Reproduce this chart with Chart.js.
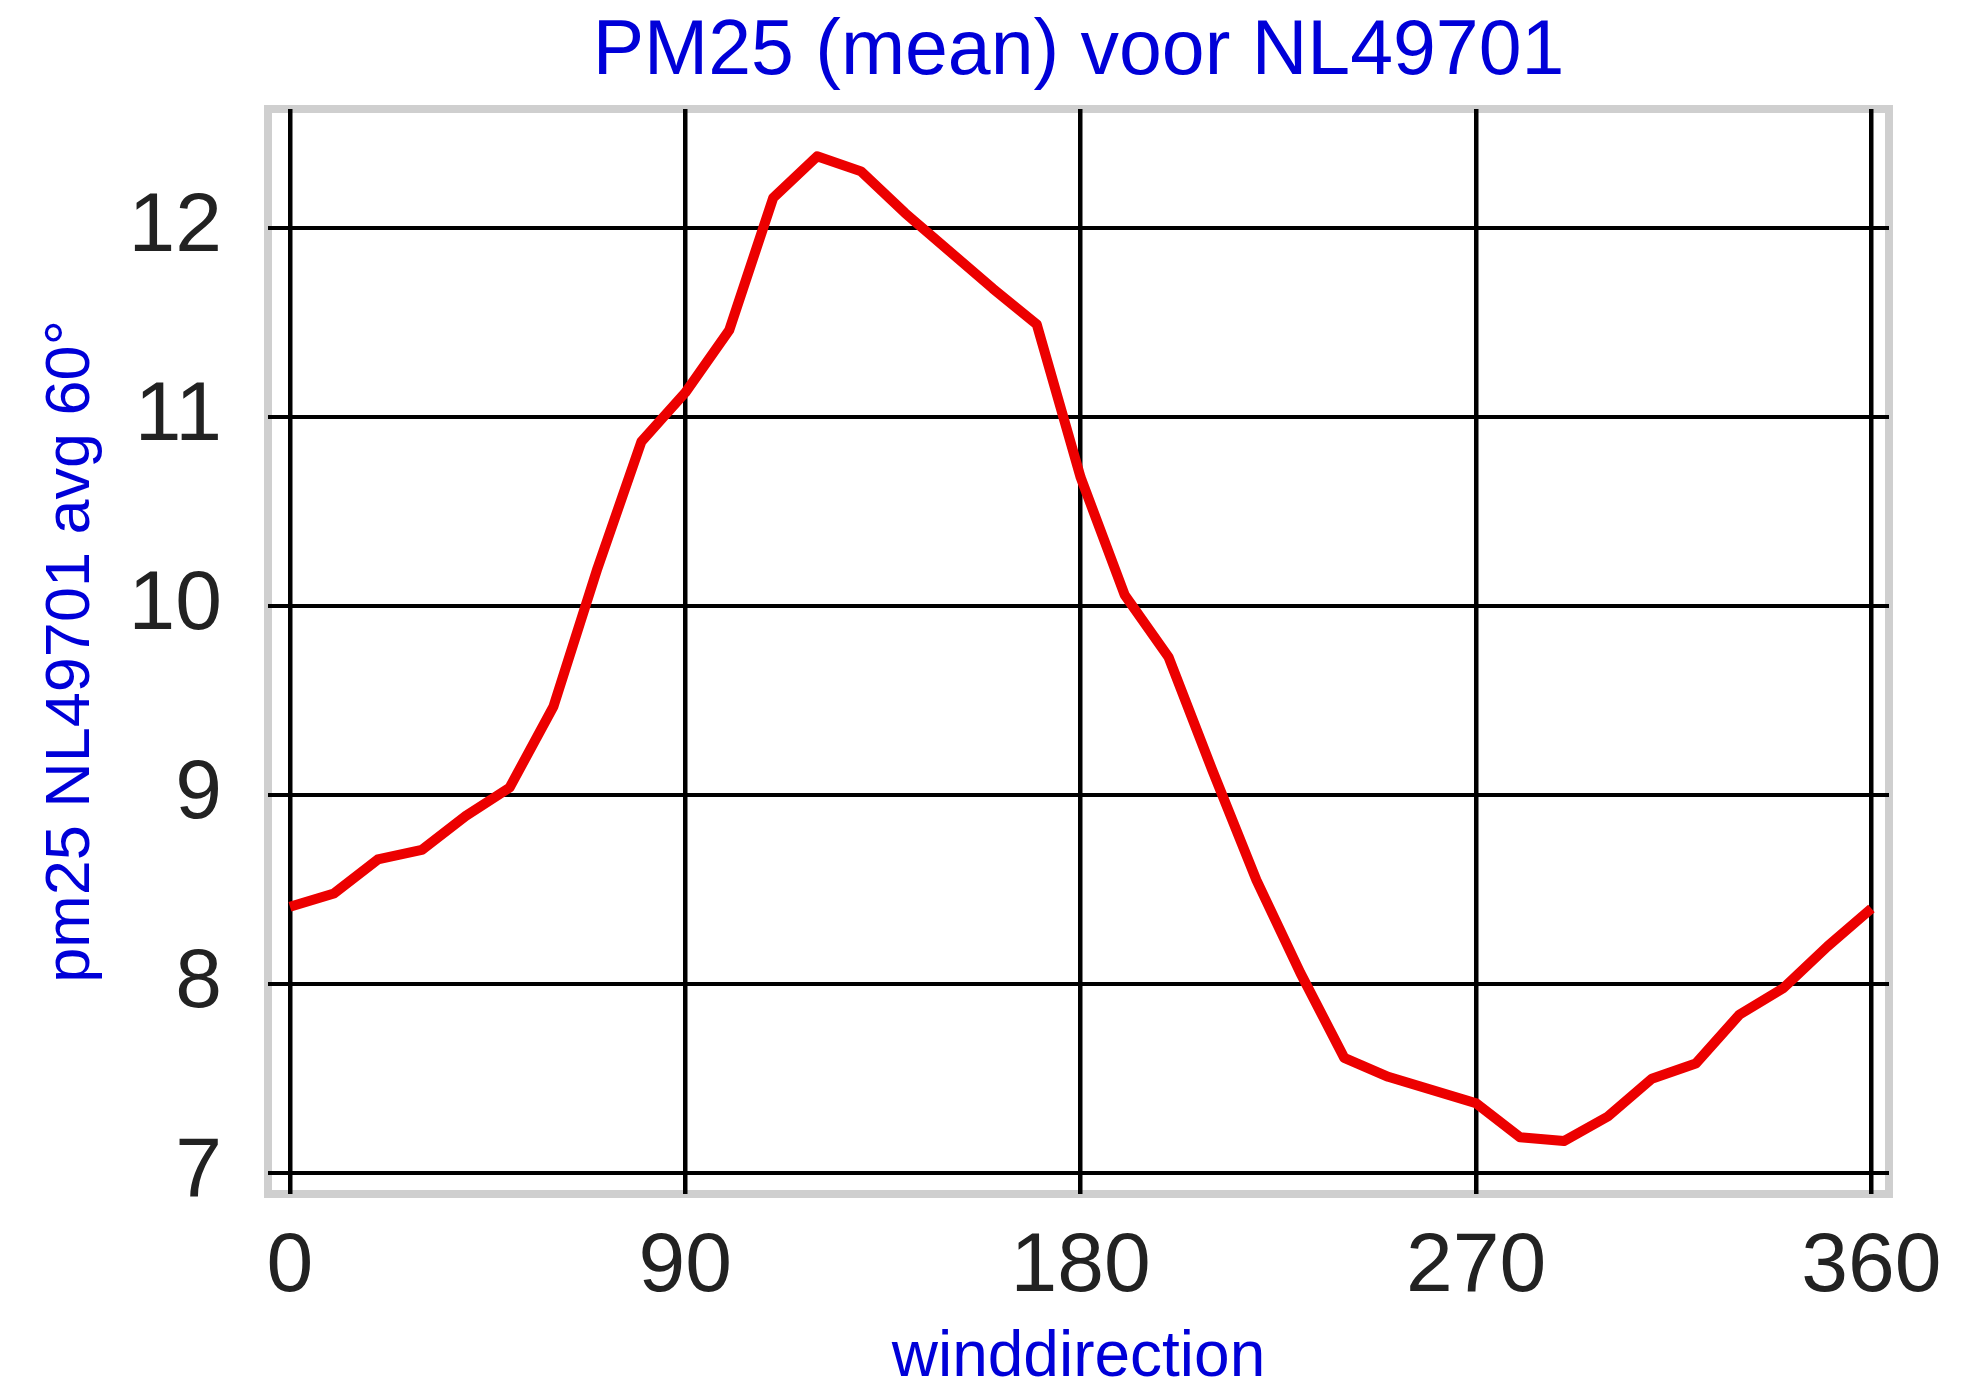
<!DOCTYPE html>
<html>
<head>
<meta charset="utf-8">
<script src="https://cdn.jsdelivr.net/npm/chart.js@4/dist/chart.umd.min.js"></script>
<style>
  html, body { margin: 0; padding: 0; background: #ffffff; }
  #wrap { width: 1988px; height: 1386px; }
</style>
</head>
<body>
<div id="wrap"><canvas id="c" width="1988" height="1386"></canvas></div>
<script>
// ---- data ----
const directions = [0, 10, 20, 30, 40, 50, 60, 70, 80, 90, 100, 110, 120, 130, 140, 150, 160, 170, 180,
                    190, 200, 210, 220, 230, 240, 250, 260, 270, 280, 290, 300, 310, 320, 330, 340, 350, 360];
const pm25Mean = [8.41, 8.48, 8.66, 8.71, 8.89, 9.04, 9.47, 10.20, 10.87, 11.13, 11.46, 12.16, 12.38, 12.30,
                  12.08, 11.88, 11.68, 11.49, 10.68, 10.06, 9.73, 9.13, 8.55, 8.06, 7.61, 7.51, 7.44, 7.37,
                  7.19, 7.17, 7.30, 7.50, 7.58, 7.84, 7.98, 8.20, 8.40];
const xTicks = [0, 90, 180, 270, 360];
const yTicks = [7, 8, 9, 10, 11, 12];
const chartTitle = 'PM25 (mean) voor NL49701';
const xTitle = 'winddirection';
const yTitle = 'pm25 NL49701 avg 60°';

const FONT = "'Liberation Sans', Arial, sans-serif";

const framePlugin = {
  id: 'frame',
  beforeDraw(chart) {
    const a = chart.chartArea;
    const ctx = chart.ctx;
    ctx.save();
    ctx.strokeStyle = '#cfcfcf';
    ctx.lineWidth = 8;
    ctx.strokeRect(a.left, a.top, a.right - a.left, a.bottom - a.top);
    ctx.restore();
  }
};

new Chart(document.getElementById('c'), {
  type: 'line',
  data: {
    datasets: [{
      data: directions.map((d, i) => ({ x: d, y: pm25Mean[i] })),
      borderColor: '#ec0000',
      borderWidth: 10,
      pointRadius: 0,
      tension: 0,
      fill: false,
      borderJoinStyle: 'round',
      borderCapStyle: 'butt'
    }]
  },
  options: {
    responsive: false,
    animation: false,
    devicePixelRatio: 1,
    layout: { padding: { left: 0, top: 0, right: 99, bottom: 0 } },
    plugins: {
      legend: { display: false },
      tooltip: { enabled: false },
      title: {
        display: true,
        text: chartTitle,
        color: '#0000d8',
        fullSize: false,
        font: { family: FONT, size: 77, weight: 'normal', lineHeight: 1 },
        padding: { top: 14, bottom: 18 }
      }
    },
    scales: {
      x: {
        type: 'linear',
        min: -5,
        max: 364,
        afterBuildTicks: (axis) => { axis.ticks = xTicks.map(v => ({ value: v })); },
        afterFit: (s) => { s.height = 192; s.paddingLeft = 0; s.paddingRight = 0; },
        grid: { color: '#000000', lineWidth: 4.5, drawTicks: false },
        border: { display: false },
        ticks: {
          color: '#222222',
          padding: 23,
          maxRotation: 0,
          autoSkip: false,
          font: { family: FONT, size: 84, lineHeight: 1.2 }
        },
        title: {
          display: true,
          text: xTitle,
          color: '#0000d8',
          font: { family: FONT, size: 64, lineHeight: 0.875 },
          padding: { top: 0, bottom: 0 }
        }
      },
      y: {
        type: 'linear',
        min: 6.89,
        max: 12.63,
        afterBuildTicks: (axis) => { axis.ticks = yTicks.map(v => ({ value: v })); },
        afterFit: (s) => { s.width = 268; s.paddingTop = 0; s.paddingBottom = 0; },
        grid: { color: '#000000', lineWidth: 4, drawTicks: false },
        border: { display: false },
        ticks: {
          color: '#222222',
          padding: 46,
          autoSkip: false,
          font: { family: FONT, size: 84, lineHeight: 1.2 }
        },
        title: {
          display: true,
          text: yTitle,
          color: '#0000d8',
          font: { family: FONT, size: 63, lineHeight: 1 },
          padding: { top: 40, bottom: 0 }
        }
      }
    }
  },
  plugins: [framePlugin]
});
</script>
</body>
</html>
